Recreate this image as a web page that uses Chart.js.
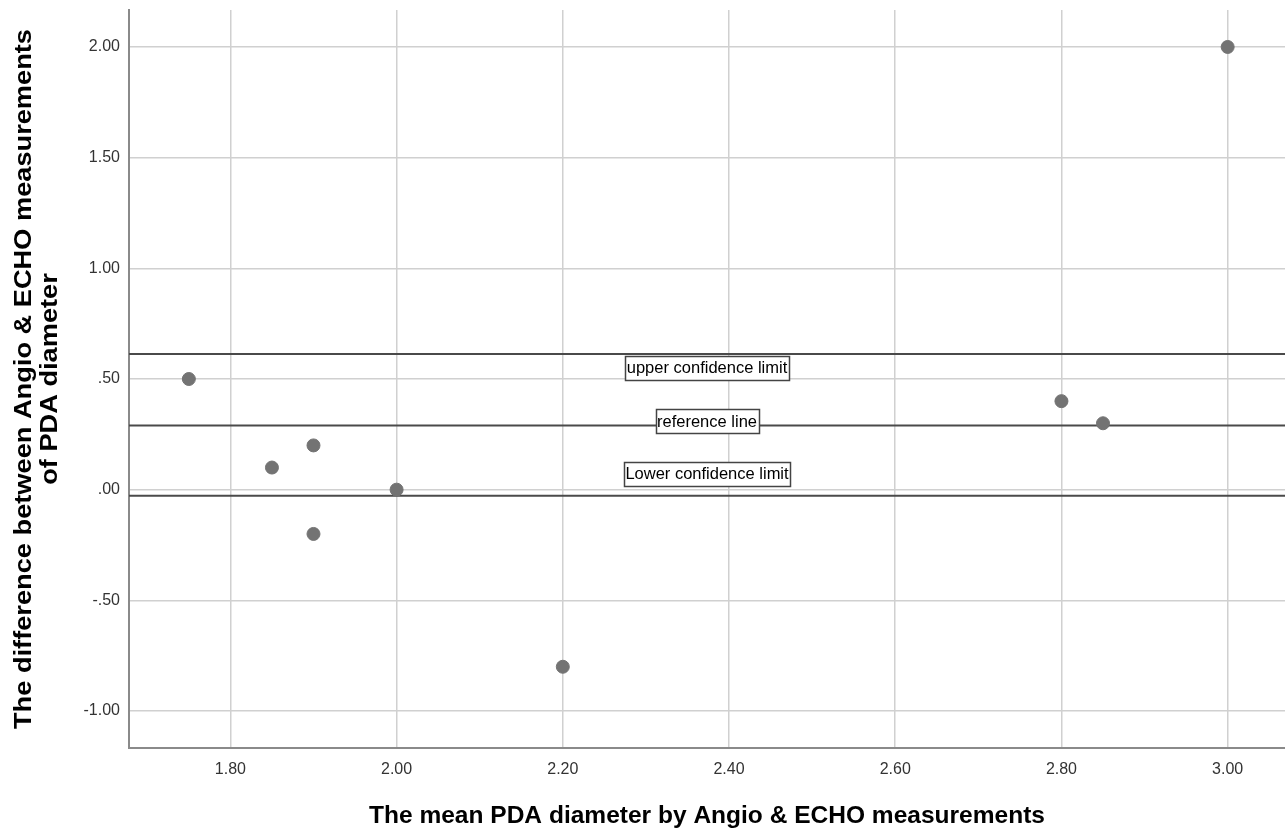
<!DOCTYPE html>
<html>
<head>
<meta charset="utf-8">
<script src="https://cdn.jsdelivr.net/npm/chart.js@4"></script>
<style>
html,body{margin:0;padding:0;background:#fff;}
#wrap{width:1285px;height:834px;position:relative;}
</style>
</head>
<body>
<div id="wrap"><canvas id="c" width="1285" height="834"></canvas></div>
<script>
// Data
const meanDiameter = [1.75, 1.85, 1.90, 1.90, 2.00, 2.20, 2.80, 2.85, 3.00];
const difference   = [0.50, 0.10, 0.20, -0.20, 0.00, -0.80, 0.40, 0.30, 2.00];
const xTicks = [1.80, 2.00, 2.20, 2.40, 2.60, 2.80, 3.00];
const yTicks = [-1.00, -0.50, 0.00, 0.50, 1.00, 1.50, 2.00];
const refLineNames  = ['upper confidence limit', 'reference line', 'Lower confidence limit'];
const refLineValues = [0.613, 0.290, -0.027];
const refLabelValues = [0.55, 0.31, 0.072];
const xRange = [1.678, 3.069];
const yRange = [-1.167, 2.167];
const xTitle = 'The mean PDA diameter by Angio & ECHO measurements';
const yTitleLines = ['The difference between Angio & ECHO measurements', 'of PDA diameter'];

const FONT = "'Liberation Sans', Arial, sans-serif";

function fmt(v){
  let s = Math.abs(v).toFixed(2);
  if (s.startsWith('0')) s = s.slice(1);
  return (v < 0 ? '-' : '') + s;
}

const points = meanDiameter.map((x, i) => ({x, y: difference[i]}));

const lineDatasets = refLineValues.map((v, i) => ({
  type: 'line',
  label: refLineNames[i],
  data: [{x: xRange[0], y: v}, {x: xRange[1], y: v}],
  borderColor: '#4a4a4a',
  borderWidth: 2,
  pointRadius: 0,
  fill: false,
  order: 2
}));

const labelPlugin = {
  id: 'refLabels',
  afterDatasetsDraw(chart){
    const {ctx, scales:{x, y}} = chart;
    ctx.save();
    ctx.font = '16.5px ' + FONT;
    ctx.textAlign = 'center';
    ctx.textBaseline = 'middle';
    const cx = x.getPixelForValue((xRange[0] + xRange[1]) / 2);
    refLineNames.forEach((name, i) => {
      const cy = y.getPixelForValue(refLabelValues[i]);
      const w = Math.round(ctx.measureText(name).width + 3);
      const h = 24;
      const bx = Math.round(cx - w/2) + 0.5, by = Math.round(cy - h/2) + 0.5;
      ctx.fillStyle = '#ffffff';
      ctx.fillRect(bx, by, w, h);
      ctx.strokeStyle = '#444';
      ctx.lineWidth = 1.5;
      ctx.strokeRect(bx, by, w, h);
      ctx.fillStyle = '#000';
      ctx.fillText(name, cx, cy + 1);
    });
    ctx.restore();
  },
  afterDraw(chart){
    const {ctx, chartArea} = chart;
    ctx.save();
    ctx.fillStyle = '#000';
    ctx.font = 'bold 24px ' + FONT;
    ctx.textAlign = 'center';
    ctx.textBaseline = 'middle';
    // x title
    ctx.save();
    const xw = ctx.measureText(xTitle).width;
    ctx.translate((chartArea.left + chartArea.right) / 2, 816);
    ctx.scale(676 / xw, 1);
    ctx.fillText(xTitle, 0, 0);
    ctx.restore();
    // y title
    const cy = (chartArea.top + chartArea.bottom) / 2;
    const yw = ctx.measureText(yTitleLines[0]).width;
    ctx.translate(24, cy);
    ctx.rotate(-Math.PI / 2);
    ctx.scale(700 / yw, 1);
    ctx.fillText(yTitleLines[0], 0, 0);
    ctx.fillText(yTitleLines[1], 0, 26);
    ctx.restore();
  }
};

new Chart(document.getElementById('c'), {
  type: 'scatter',
  data: {
    datasets: [
      {
        label: 'points',
        data: points,
        backgroundColor: '#737373',
        borderColor: '#737373',
        pointRadius: 6.5,
        pointHoverRadius: 6.5,
        order: 1
      },
      ...lineDatasets
    ]
  },
  options: {
    responsive: false,
    animation: false,
    events: [],
    layout: {autoPadding: false, padding: {top: 10, right: 0, left: 0, bottom: 0}},
    plugins: {legend: {display: false}, tooltip: {enabled: false}, title: {display: false}},
    scales: {
      x: {
        type: 'linear',
        min: xRange[0], max: xRange[1],
        afterBuildTicks(s){ s.ticks = xTicks.map(v => ({value: v})); },
        afterFit(s){ s.height = 86; s.paddingLeft = 0; s.paddingRight = 0; },
        grid: {color: '#d0d0d0', lineWidth: 1.5, drawTicks: false},
        border: {display: true, color: '#8a8a8a', width: 2},
        ticks: {
          padding: 12,
          color: '#333',
          font: {family: FONT, size: 16},
          callback: v => fmt(v),
          maxRotation: 0
        }
      },
      y: {
        type: 'linear',
        min: yRange[0], max: yRange[1],
        afterBuildTicks(s){ s.ticks = yTicks.map(v => ({value: v})); },
        afterFit(s){ s.width = 129; s.paddingTop = 0; s.paddingBottom = 0; },
        grid: {color: '#d0d0d0', lineWidth: 1.5, drawTicks: false},
        border: {display: true, color: '#8a8a8a', width: 2},
        ticks: {
          padding: 9,
          color: '#333',
          font: {family: FONT, size: 16},
          callback: v => fmt(v)
        }
      }
    }
  },
  plugins: [labelPlugin]
});
</script>
</body>
</html>
